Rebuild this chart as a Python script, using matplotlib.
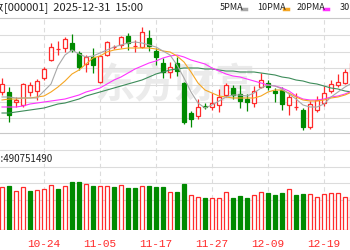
import numpy as np
import matplotlib
matplotlib.use("Agg")
import matplotlib.pyplot as plt
from matplotlib.lines import Line2D
from matplotlib.patches import Rectangle

plt.rcParams['font.family'] = ['Noto Sans CJK SC', 'DejaVu Sans']

# daily K-line data (index points)
dates = ["10-16", "10-17", "10-20", "10-21", "10-22", "10-23", "10-24", "10-27", "10-28", "10-29",
         "10-30", "10-31", "11-03", "11-04", "11-05", "11-06", "11-07", "11-10", "11-11", "11-12",
         "11-13", "11-14", "11-17", "11-18", "11-19", "11-20", "11-21", "11-24", "11-25", "11-26",
         "11-27", "11-28", "12-01", "12-02", "12-03", "12-04", "12-05", "12-08", "12-09", "12-10",
         "12-11", "12-12", "12-15", "12-16", "12-17", "12-18", "12-19", "12-22", "12-23", "12-24",
         "12-25"]
opens = [3906, 3906, 3886, 3880, 3906, 3908, 3934, 3970, 3992, 3994,
         4004, 3984, 3962, 3976, 3926, 3980, 3995, 4000, 4018, 3998,
         3996, 4014, 3988, 3964, 3946, 3964, 3924, 3864, 3858, 3877,
         3876, 3880, 3900, 3914, 3902, 3892, 3884, 3916, 3924, 3908,
         3910, 3880, 3876, 3870, 3836, 3870, 3884, 3908, 3920, 3924,
         3944]
highs = [3934, 3916, 3896, 3924, 3926, 3932, 3956, 4004, 4008, 4016,
         4022, 3988, 3980, 3994, 3980, 4008, 4000, 4018, 4024, 4010,
         4036, 4030, 3994, 3974, 3966, 3976, 3925, 3868, 3892, 3884,
         3904, 3912, 3924, 3920, 3920, 3902, 3918, 3944, 3930, 3914,
         3916, 3904, 3904, 3874, 3888, 3898, 3918, 3930, 3942, 3952,
         3970]
lows = [3900, 3846, 3876, 3876, 3898, 3890, 3930, 3968, 3980, 3986,
        3986, 3950, 3946, 3944, 3924, 3978, 3992, 3994, 3990, 3986,
        3994, 3988, 3960, 3934, 3934, 3938, 3842, 3836, 3852, 3872,
        3870, 3866, 3896, 3892, 3874, 3868, 3876, 3914, 3910, 3886,
        3870, 3860, 3870, 3830, 3832, 3866, 3878, 3904, 3916, 3922,
        3940]
closes = [3922, 3860, 3890, 3922, 3920, 3928, 3952, 3996, 3992, 4012,
          3990, 3956, 3976, 3960, 3978, 4006, 3995, 4016, 4004, 3998,
          4026, 3998, 3976, 3946, 3956, 3948, 3846, 3852, 3876, 3875,
          3884, 3896, 3920, 3900, 3888, 3886, 3908, 3930, 3916, 3904,
          3882, 3896, 3876, 3836, 3882, 3890, 3904, 3922, 3926, 3946,
          3964]
# volume, 100 million shares
volumes = [6.0, 6.2, 5.5, 6.0, 5.5, 5.6, 5.7, 6.3, 5.7, 6.1,
           6.7, 6.7, 6.4, 6.1, 6.1, 6.2, 6.0, 6.3, 5.9, 5.9,
           6.1, 6.2, 6.0, 6.0, 5.3, 5.3, 6.4, 4.9, 4.6, 4.5,
           4.5, 4.5, 5.3, 4.5, 4.8, 4.5, 4.9, 5.3, 5.2, 4.9,
           5.2, 5.7, 4.9, 5.0, 5.0, 4.6, 5.0, 5.2, 5.2, 4.6,
           4.6]
# moving averages as drawn on the chart
ma5 = [3896, 3896, 3894, 3894, 3894, 3894, 3908, 3922, 3958, 3980,
       3990, 3982, 3976, 3978, 3984, 3990, 3996, 4000, 4004, 4006,
       4004, 4000, 3996, 3988, 3980, 3960, 3934, 3906, 3884, 3874,
       3880, 3888, 3896, 3900, 3900, 3898, 3904, 3914, 3920, 3918,
       3912, 3902, 3892, 3880, 3876, 3876, 3882, 3896, 3906, 3916,
       3924]
ma10 = [3890, 3892, 3892, 3894, 3894, 3896, 3898, 3906, 3916, 3928,
        3942, 3950, 3962, 3974, 3978, 3986, 3990, 3992, 3994, 3994,
        3994, 3994, 3992, 3988, 3986, 3978, 3966, 3946, 3924, 3910,
        3904, 3898, 3896, 3894, 3894, 3894, 3894, 3898, 3906, 3910,
        3910, 3904, 3896, 3890, 3888, 3888, 3890, 3894, 3896, 3900,
        3906]
ma20 = [3876, 3876, 3876, 3878, 3882, 3884, 3886, 3888, 3890, 3892,
        3896, 3900, 3906, 3910, 3914, 3922, 3930, 3936, 3944, 3952,
        3958, 3964, 3968, 3974, 3978, 3980, 3976, 3970, 3966, 3962,
        3954, 3948, 3942, 3938, 3936, 3932, 3928, 3924, 3920, 3918,
        3914, 3908, 3898, 3892, 3890, 3890, 3892, 3896, 3898, 3902,
        3908]
ma30 = [3864, 3864, 3866, 3868, 3870, 3872, 3874, 3878, 3882, 3884,
        3888, 3892, 3898, 3902, 3906, 3910, 3914, 3918, 3922, 3926,
        3930, 3936, 3942, 3946, 3950, 3952, 3954, 3954, 3954, 3952,
        3952, 3950, 3948, 3948, 3946, 3946, 3946, 3944, 3942, 3940,
        3936, 3934, 3930, 3928, 3924, 3922, 3918, 3914, 3912, 3908,
        3906]
tick_dates = ["10-24", "11-05", "11-17", "11-27", "12-09", "12-19"]
ma_names = ["5PMA", "10PMA", "20PMA", "30PMA"]
ma_colors = ["#a8a8a8", "#f5a623", "#ff33ff", "#3d8c5a"]
title_name = "上证指数"
title_rest = "[000001]  2025-12-31  15:00"
vol_label = "总手:490751490"

W, H = 350, 250
RED = "#ff2a2a"
GREEN = "#008a00"
GRID = "#dcdcdc"


def rect(x0, y0, x1, y1):
    # pixel box -> figure fraction
    return [x0 / W, 1 - y1 / H, (x1 - x0) / W, (y1 - y0) / H]


fig = plt.figure(figsize=(W / 100, H / 100), dpi=100)
ax = fig.add_axes(rect(0, 18.3, W, 133.3))
axv = fig.add_axes(rect(0, 133.3, W, 230), sharex=ax)

x = np.arange(len(dates))
ax.set_xlim(-2 / 7, (W - 2) / 7)

# price panel
ax.set_ylim(3823.4, 4053.4)
ax.set_yticks([4020 - 33.33 * k for k in range(6)])
ax.yaxis.grid(True, color=GRID, lw=0.8)
tick_pos = [dates.index(d) for d in tick_dates]
for t in tick_pos:
    ax.axvline(t, color=GRID, lw=0.8, ls=(0, (4, 3)), zorder=0)
    axv.axvline(t, color=GRID, lw=0.8, ls=(0, (4, 3)), zorder=0)

ax.text(0.5, 0.41, "东方财富", transform=ax.transAxes, ha="center", va="center",
        fontsize=29, fontweight="bold", style="italic", color="#ebebeb", zorder=0)

w = 0.7
for i in x:
    o, h, l, c = opens[i], highs[i], lows[i], closes[i]
    col = RED if c >= o else GREEN
    ax.vlines(i, l, h, color=col, lw=0.9, zorder=2)
    face = "white" if c >= o else GREEN
    ax.add_patch(Rectangle((i - w / 2, min(o, c)), w, max(abs(c - o), 0.01),
                           facecolor=face, edgecolor=col, lw=0.9, zorder=3))

for vals, col in zip([ma30, ma20, ma10, ma5], ma_colors[::-1]):
    ax.plot(x, vals, color=col, lw=0.8, zorder=4)

for sp in ["left", "right", "bottom"]:
    ax.spines[sp].set_visible(False)
ax.spines["top"].set_color("#c8c8c8")
ax.tick_params(left=False, bottom=False, labelleft=False, labelbottom=False)

# volume panel (0.14 per pixel)
axv.set_ylim(0, 96.7 * 0.14)
axv.set_yticks([v * 0.14 for v in (80, 63.3, 46.7, 30, 13.3)])
axv.yaxis.grid(True, color=GRID, lw=0.8)
prev = [opens[0]] + closes[:-1]
for i in x:
    up = closes[i] >= prev[i]
    axv.bar(i, volumes[i], width=w, color="white" if up else GREEN,
            edgecolor=RED if up else GREEN, lw=0.9, zorder=3)
for sp in ["left", "right", "bottom"]:
    axv.spines[sp].set_visible(False)
axv.spines["top"].set_color("#c8c8c8")
axv.set_xticks(tick_pos)
axv.set_xticklabels(tick_dates, color=RED, fontsize=8, family=["Liberation Mono", "DejaVu Sans"])
axv.tick_params(left=False, bottom=False, labelleft=False, pad=3)
axv.text(53 / W, 71 * 0.14, vol_label, transform=axv.get_yaxis_transform(), ha="right",
         va="center", fontsize=7, color="#222222", zorder=5)

# header
fig.text(4 / W, 1 - 8 / H, title_name, ha="right", va="center", fontsize=8, color="#222222")
fig.text(4 / W, 1 - 8 / H, title_rest, ha="left", va="center", fontsize=8, color="#222222")
lx = [220, 257, 297, 340]
for name, col, px in zip(ma_names, ma_colors, lx):
    fig.text(px / W, 1 - 8 / H, name, ha="left", va="center", fontsize=6.5, color="#222222")
    fig.add_artist(Line2D([(px + len(name) * 5.0 + 2) / W, (px + len(name) * 5.0 + 6) / W],
                          [1 - 8.5 / H] * 2, color=col, lw=2.5, transform=fig.transFigure))

fig.savefig("out.png", dpi=100, facecolor="white")
